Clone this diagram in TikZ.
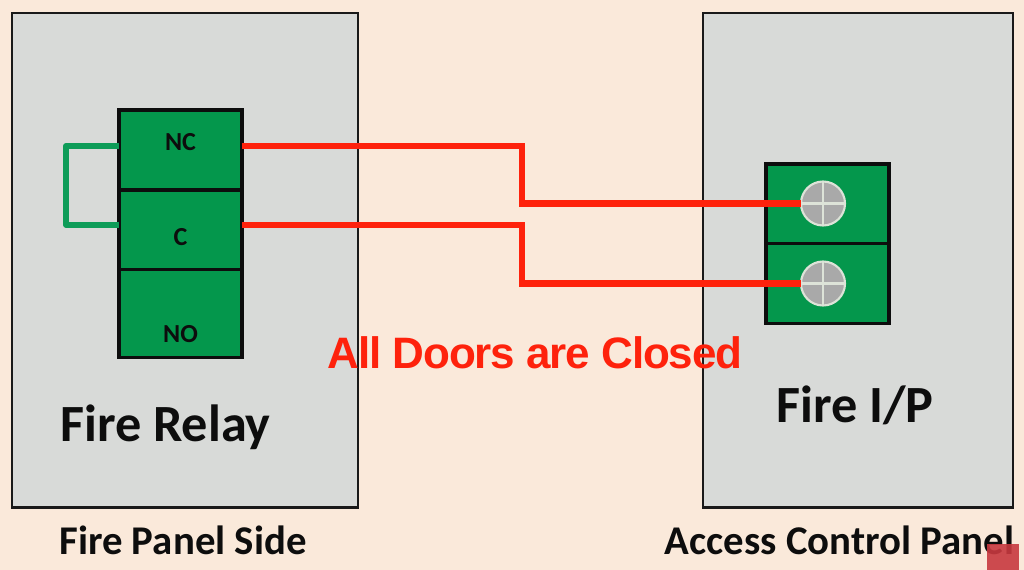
\documentclass[tikz,border=0pt]{standalone}
\usepackage{fontspec}
\usetikzlibrary{calc}
\setmainfont{Carlito}
\newfontfamily\arialfont[LetterSpace=-2.5]{Liberation Sans}
\definecolor{bgc}{HTML}{FAE9DA}
\definecolor{panelc}{HTML}{D8DAD8}
\definecolor{termc}{HTML}{04974C}
\definecolor{wirer}{HTML}{FE220C}
\definecolor{jumper}{HTML}{0E9C58}
\definecolor{screwc}{HTML}{A9A9A9}
\definecolor{screwl}{HTML}{DDE3D8}
\definecolor{logoc}{HTML}{C8393F}
\tikzset{
  panelbox/.style={draw=black!90,line width=2.2pt,fill=panelc,rectangle,inner sep=0pt,outer sep=0pt,anchor=north west},
  termbox/.style={draw=black!95,line width=2.4pt,fill=termc,rectangle,inner sep=0pt,outer sep=0pt,anchor=north west,minimum width=92.25pt},
  termtext/.style={font=\bfseries\fontsize{19.5}{22}\selectfont,text=black!95},
  wire/.style={draw=wirer,line width=4.6pt,line join=miter},
  jump/.style={draw=jumper,line width=4.4pt,line join=round},
  screw/.style={circle,draw=screwl,line width=1.6pt,fill=screwc,minimum size=33pt,inner sep=0pt,outer sep=0pt},
  biglabel/.style={font=\bfseries\fontsize{39.2}{44}\selectfont,text=black!95},
  caption/.style={font=\bfseries\fontsize{30.6}{36}\selectfont,text=black!95},
  alert/.style={font=\arialfont\bfseries\fontsize{33}{38}\selectfont,text=wirer}
}
\begin{document}
\begin{tikzpicture}[x=0.75pt,y=-0.75pt]
\useasboundingbox (0,0) rectangle (1024,570);
\fill[bgc] (0,0) rectangle (1024,570);
\node[panelbox,minimum width=259.5pt,minimum height=371pt] (left) at (12,13) {};
\node[panelbox,minimum width=232.5pt,minimum height=371pt] (right) at (703,13) {};
% relay terminals
\node[termbox,minimum height=60pt] (nc) at (119,110) {};
\node[termbox,minimum height=59.5pt] (c) at (119,190) {};
\node[termbox,minimum height=66pt] (no) at (119,269.5) {};
\node[termtext] (ncl) at (180.5,142) {NC};
\node[termtext] (cl) at (180.5,237) {C};
\node[termtext] (nol) at (180.5,334) {NO};
% input terminals
\node[termbox,minimum height=59.5pt] (ipa) at (766,164) {};
\node[termbox,minimum height=60pt] (ipb) at (766,243.5) {};
\node[screw] (sa) at (823,203.5) {};
\node[screw] (sb) at (823,283.5) {};
\foreach \s in {sa,sb}{
  \draw[screwl,line width=1.6pt] (\s.north) -- (\s.south);
  \draw[screwl,line width=1.6pt] (\s.west) -- (\s.east);
}
% wires
\coordinate (bend) at (522,0);
\coordinate (jmp) at (66,0);
\coordinate (nco) at ($(nc.east)+(0,-4)$);
\coordinate (co) at ($(c.east)+(0,-4.75)$);
\coordinate (nci) at ($(nc.west)+(0,-4)$);
\coordinate (ci) at ($(c.west)+(0,-4.75)$);
\draw[wire] (nco) -- (nco -| bend) -- (bend |- sa.west) -- (sa.west);
\draw[wire] (co) -- (co -| bend) -- (bend |- sb.west) -- (sb.west);
\draw[jump] (nci) -- (nci -| jmp) -- (ci -| jmp) -- (ci);
% labels
\node[biglabel] (relay) at (165.5,427) {Fire Relay};
\node[biglabel] (ip) at (855,405) {Fire I/P};
\node[caption] (capl) at (183,540) {Fire Panel Side};
\node[caption] (capr) at (839.5,540) {Access Control Panel};
\node[alert] (msg) at (535,353) {All Doors are Closed};
\node[draw=none,fill=logoc,opacity=0.9,minimum width=24pt,minimum height=19.5pt,inner sep=0pt,anchor=north west] (logo) at (987,544) {};
\end{tikzpicture}
\end{document}
